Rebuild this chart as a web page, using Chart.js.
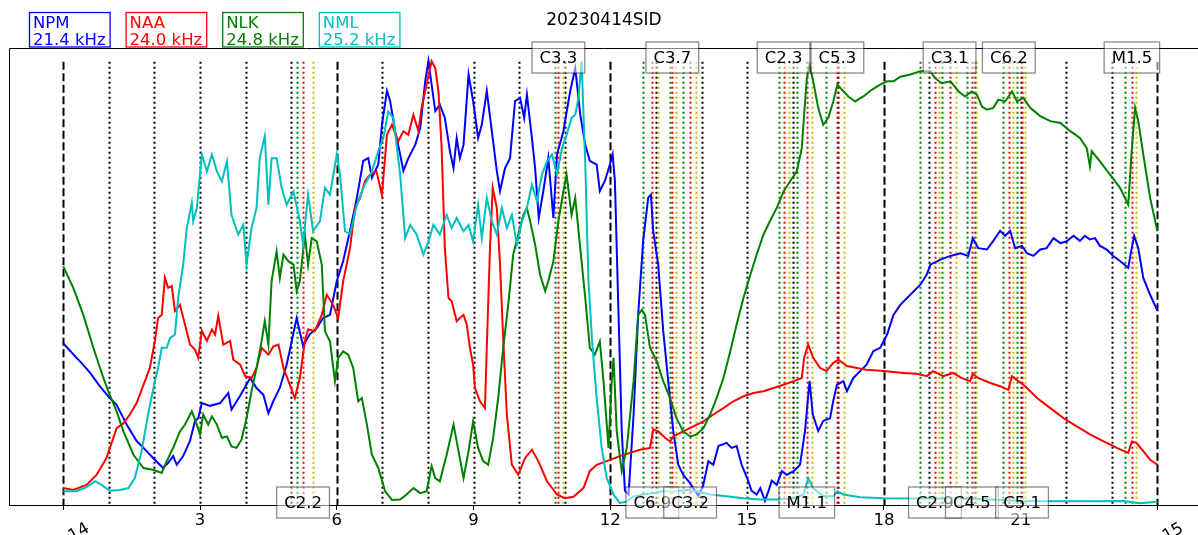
<!DOCTYPE html>
<html>
<head>
<meta charset="utf-8">
<title>20230414SID</title>
<script src="https://cdn.jsdelivr.net/npm/chart.js@4.4.0/dist/chart.umd.min.js"></script>
<style>
  html, body { margin: 0; padding: 0; background: #fff; overflow: hidden; }
  canvas { display: block; }
</style>
</head>
<body>
<canvas id="sid" width="1198" height="535"></canvas>
<script>
// ---- VLF receiver signals, 2023-04-14 (UT hours, normalised 0-100) ----
const npmHours = [0,0.29,0.40,0.59,0.80,1.02,1.17,1.39,1.61,1.76,
  1.97,2.19,2.30,2.41,2.49,2.63,2.78,2.89,2.96,3.04,
  3.22,3.44,3.62,3.69,3.88,4.10,4.24,4.39,4.50,4.61,
  4.75,4.90,5.12,5.26,5.41,5.56,5.70,5.85,6.00,6.14,
  6.29,6.44,6.58,6.69,6.77,6.91,6.99,7.10,7.17,7.28,
  7.39,7.46,7.57,7.72,7.83,7.94,8.01,8.08,8.16,8.26,
  8.37,8.48,8.56,8.63,8.70,8.78,8.89,8.99,9.10,9.18,
  9.29,9.40,9.51,9.58,9.69,9.80,9.91,10.02,10.11,10.17,
  10.28,10.35,10.43,10.53,10.64,10.75,10.83,10.97,11.12,11.23,
  11.34,11.45,11.55,11.70,11.77,11.88,11.99,12.05,12.10,12.18,
  12.25,12.32,12.40,12.51,12.61,12.72,12.83,12.89,12.94,13.05,
  13.16,13.27,13.38,13.49,13.60,13.71,13.82,13.93,14.04,14.15,
  14.26,14.37,14.55,14.66,14.77,14.88,15.00,15.10,15.21,15.29,
  15.39,15.47,15.54,15.65,15.76,15.87,16.02,16.16,16.27,16.37,
  16.44,16.56,16.67,16.82,16.89,16.97,17.11,17.19,17.33,17.48,
  17.62,17.77,17.92,18.07,18.21,18.36,18.58,18.80,18.94,19.02,
  19.24,19.46,19.68,19.85,19.95,20.07,20.26,20.40,20.55,20.66,
  20.77,20.88,21.03,21.14,21.28,21.43,21.57,21.72,21.87,22.01,
  22.16,22.30,22.41,22.52,22.63,22.74,22.89,23.03,23.18,23.36,
  23.41,23.49,23.58,23.69,23.84,24.0];
const npmValues = [35.4,32.2,31.1,28.9,26.0,23.4,21.9,17.6,14.0,12.5,
  10.3,8.1,9.2,10.7,8.8,10.7,14.0,18.4,19.0,22.3,
  21.7,22.3,24.5,20.9,23.9,27.8,25.6,24.1,20.1,22.8,
  25.6,30.7,40.9,34.8,37.4,38.7,40.9,41.6,49.0,53.4,
  60.0,67.2,75.3,75.9,71.6,74.5,83.2,90.6,88.4,81.8,
  76.7,73.1,75.9,78.8,82.5,92.8,97.2,92.0,86.2,87.6,
  84.7,77.5,73.7,80.3,75.9,78.8,94.2,88.4,80.3,83.2,
  90.6,81.8,73.1,68.7,73.7,75.9,88.4,89.1,84.7,89.8,
  80.3,73.7,62.8,68.7,75.9,62.8,76.7,81.8,90.6,95.6,
  85.4,78.8,75.3,74.5,68.7,70.9,74.5,76.7,70.9,41.6,
  16.2,3.1,2.3,19.8,41.6,57.8,67.2,67.9,60.0,52.6,
  38.1,27.1,16.2,8.8,6.6,5.3,3.7,2.0,4.4,9.6,
  8.8,12.9,13.6,12.5,12.9,8.8,5.9,3.1,2.3,3.7,
  0.9,3.1,5.3,4.4,7.4,6.6,7.4,8.8,16.2,27.1,
  19.8,16.2,18.4,19.0,22.8,26.3,27.1,24.9,27.8,29.3,
  30.7,33.7,34.4,37.3,41.6,43.8,46.0,48.2,50.4,52.6,
  53.7,54.5,55.1,54.5,58.4,56.2,55.9,57.8,60.0,58.9,
  60.0,56.2,56.7,55.1,54.5,55.9,56.2,58.4,57.3,57.7,
  58.9,57.8,58.9,58.1,58.4,56.7,55.9,54.5,53.4,51.9,
  54.8,58.9,56.2,49.7,46.0,42.5];

const naaHours = [0,0.22,0.51,0.73,0.95,1.17,1.32,1.46,1.61,1.76,
  1.90,2.01,2.08,2.16,2.23,2.30,2.38,2.45,2.56,2.67,
  2.78,2.89,2.96,3.04,3.15,3.26,3.33,3.40,3.51,3.66,
  3.73,3.88,3.99,4.13,4.24,4.35,4.50,4.61,4.72,4.83,
  4.97,5.08,5.19,5.30,5.37,5.52,5.67,5.78,5.92,6.03,
  6.14,6.29,6.40,6.51,6.62,6.73,6.87,6.99,7.10,7.21,
  7.35,7.46,7.57,7.68,7.79,7.86,7.97,8.08,8.16,8.23,
  8.30,8.37,8.45,8.52,8.63,8.70,8.78,8.85,8.92,8.99,
  9.03,9.14,9.25,9.29,9.36,9.42,9.51,9.58,9.65,9.73,
  9.84,9.98,10.13,10.28,10.42,10.61,10.83,11.00,11.19,11.41,
  11.55,11.70,11.92,12.21,12.43,12.65,12.87,12.94,13.05,13.20,
  13.31,13.38,13.60,13.82,14.04,14.26,14.48,14.70,14.92,15.14,
  15.36,15.58,15.80,16.02,16.20,16.25,16.34,16.45,16.60,16.74,
  16.89,17.00,17.19,17.41,17.62,17.99,18.43,18.72,18.94,19.08,
  19.30,19.52,19.70,19.89,19.95,20.07,20.33,20.55,20.73,20.81,
  20.95,21.10,21.36,21.65,21.94,22.23,22.53,22.82,23.11,23.36,
  23.44,23.54,23.69,23.84,24.0];
const naaValues = [3.7,3.3,4.4,6.6,10.3,16.8,17.9,19.8,22.3,26.3,
  30.0,35.9,40.9,41.6,49.7,47.5,47.9,42.5,43.8,39.5,
  35.1,34.0,32.2,38.1,35.9,38.4,37.3,41.4,35.1,35.9,
  31.8,30.7,28.2,27.8,30.0,34.4,32.9,34.7,35.1,30.0,
  26.3,23.4,27.8,35.9,38.4,38.1,41.6,46.0,43.8,40.9,
  49.0,56.2,65.0,67.2,70.9,72.3,73.0,67.9,81.0,83.2,
  79.6,81.8,81.0,85.4,81.8,86.9,92.0,97.1,95.6,90.5,
  78.1,56.2,45.3,44.6,40.2,40.9,41.6,39.5,34.4,30.7,
  25.6,22.7,21.2,34.4,56.2,69.4,65.0,52.6,36.5,19.8,
  8.8,6.6,10.3,12.1,9.6,5.2,2.3,1.5,1.8,3.7,
  7.4,8.8,9.6,10.7,11.4,12.1,12.5,16.5,16.1,14.7,
  13.9,15.0,16.1,17.2,18.3,19.8,21.2,22.7,23.8,24.5,
  24.9,25.6,26.3,27.1,27.8,32.2,35.1,32.2,30.0,29.3,
  31.1,31.8,30.4,30.0,29.6,29.3,28.9,28.7,28.2,29.3,
  28.2,28.9,27.8,27.1,28.7,27.8,26.7,26.0,25.2,28.2,
  27.1,26.0,23.4,21.2,19.0,17.2,15.4,13.9,12.5,11.4,
  13.9,13.6,11.8,9.9,8.8];

const nlkHours = [0,0.22,0.44,0.66,0.88,1.02,1.17,1.32,1.54,1.76,
  1.97,2.16,2.27,2.41,2.56,2.67,2.82,2.93,3.00,3.07,
  3.18,3.26,3.37,3.48,3.59,3.69,3.80,3.91,4.02,4.13,
  4.24,4.35,4.42,4.50,4.57,4.68,4.75,4.83,4.94,5.05,
  5.12,5.19,5.30,5.37,5.45,5.56,5.67,5.74,5.85,5.96,
  6.03,6.14,6.25,6.36,6.47,6.55,6.66,6.77,6.91,7.06,
  7.21,7.39,7.53,7.68,7.83,7.97,8.08,8.16,8.26,8.41,
  8.56,8.67,8.78,8.89,8.99,9.10,9.21,9.32,9.43,9.54,
  9.65,9.76,9.87,9.98,10.09,10.17,10.24,10.35,10.46,10.57,
  10.64,10.75,10.86,10.97,11.04,11.15,11.23,11.34,11.45,11.55,
  11.66,11.77,11.85,11.96,12.03,12.07,12.14,12.25,12.36,12.51,
  12.61,12.69,12.76,12.87,13.02,13.16,13.31,13.45,13.60,13.75,
  13.89,14.04,14.19,14.33,14.48,14.63,14.77,14.92,15.07,15.21,
  15.36,15.50,15.65,15.80,15.94,16.09,16.20,16.25,16.31,16.37,
  16.45,16.56,16.67,16.78,16.89,16.98,17.08,17.22,17.37,17.55,
  17.74,17.92,18.07,18.21,18.36,18.58,18.80,19.02,19.12,19.27,
  19.46,19.64,19.78,19.93,20.04,20.15,20.26,20.40,20.51,20.66,
  20.81,20.92,21.06,21.21,21.43,21.65,21.87,22.09,22.30,22.45,
  22.52,22.56,22.74,22.96,23.18,23.36,23.44,23.51,23.58,23.69,
  23.84,24.0];
const nlkValues = [52.2,47.5,41.6,34.4,27.8,24.1,20.5,16.1,11.0,8.1,
  7.7,7.0,9.6,12.5,16.1,17.6,20.5,17.6,15.4,19.8,
  17.6,19.4,17.6,14.7,15.0,12.8,12.5,14.3,19.0,24.9,
  30.0,35.8,40.2,35.1,49.0,55.5,49.7,54.8,53.3,52.6,
  46.8,49.0,59.2,52.6,58.4,57.7,52.6,38.0,35.8,27.1,
  32.2,33.6,32.9,30.0,22.7,23.4,17.6,11.0,8.1,3.0,
  1.1,1.2,2.3,3.7,2.6,3.0,8.5,5.9,5.2,11.0,
  17.6,11.8,5.9,11.8,18.3,12.5,9.6,8.8,14.7,23.4,
  34.4,43.8,54.8,59.2,63.5,65.0,62.1,57.0,50.4,46.8,
  49.0,53.3,62.1,68.6,72.3,63.5,67.2,56.2,45.3,34.4,
  32.9,35.8,27.1,12.5,27.1,32.2,16.1,7.4,12.5,27.1,
  41.6,42.7,41.6,34.4,31.4,27.1,23.4,19.0,16.1,15.0,
  15.4,16.8,19.8,23.4,27.8,33.6,39.5,45.3,50.4,54.8,
  59.2,62.1,65.0,68.6,70.8,73.0,78.1,85.4,93.4,96.3,
  92.7,86.9,83.2,84.7,88.3,92.0,90.9,89.4,88.3,89.4,
  90.9,92.0,92.7,92.7,93.7,94.2,94.9,94.9,93.4,92.3,
  92.7,90.5,89.4,90.5,89.8,87.2,86.5,86.9,88.7,88.3,
  90.5,88.3,89.1,86.9,85.1,84.0,83.6,81.8,80.3,78.1,
  74.1,77.4,75.2,72.3,69.4,65.7,78.1,86.9,84.0,76.7,
  67.2,59.9];

const nmlHours = [0,0.29,0.51,0.70,0.84,1.02,1.24,1.43,1.57,1.72,
  1.86,2.01,2.08,2.16,2.27,2.34,2.45,2.52,2.63,2.71,
  2.82,2.85,2.93,3.04,3.15,3.26,3.37,3.48,3.59,3.69,
  3.84,3.95,4.02,4.13,4.24,4.31,4.42,4.50,4.57,4.68,
  4.79,4.90,5.05,5.19,5.26,5.37,5.48,5.63,5.74,5.85,
  6.00,6.07,6.18,6.29,6.44,6.58,6.77,6.91,7.02,7.13,
  7.24,7.39,7.50,7.61,7.75,7.90,8.01,8.12,8.26,8.41,
  8.52,8.63,8.78,8.89,8.99,9.10,9.18,9.29,9.40,9.51,
  9.62,9.73,9.84,9.95,10.06,10.17,10.28,10.39,10.50,10.61,
  10.72,10.83,10.94,11.04,11.15,11.23,11.30,11.37,11.45,11.52,
  11.60,11.70,11.81,11.92,12.07,12.21,12.36,12.51,12.72,12.94,
  13.16,13.45,13.68,13.89,14.19,14.55,14.92,15.29,15.65,16.02,
  16.24,16.34,16.45,16.67,16.89,16.98,17.11,17.48,17.99,18.87,
  19.60,20.33,21.06,21.79,22.52,23.25,23.62,24.0];
const nmlValues = [3.0,3.0,3.9,5.2,4.4,3.1,3.3,3.7,5.9,11.8,
  19.8,27.1,30.0,34.4,34.4,36.5,37.3,45.3,52.6,60.6,
  66.1,62.1,65.0,76.7,73.0,76.7,73.0,70.8,75.2,63.5,
  59.2,61.3,52.6,60.6,65.0,75.9,80.7,65.7,75.9,75.9,
  69.4,65.7,68.6,62.1,57.0,67.9,59.9,62.1,69.4,67.9,
  76.7,72.3,59.9,59.2,65.7,69.4,73.0,77.4,80.3,86.1,
  84.7,72.3,58.4,61.3,59.2,54.8,57.7,61.3,59.2,63.5,
  60.6,62.8,59.9,61.3,57.7,65.7,58.4,67.2,62.1,59.2,
  65.0,60.6,63.5,57.0,62.1,65.0,70.1,66.5,72.3,75.2,
  76.7,72.3,78.1,81.0,84.7,85.4,89.1,97.1,74.5,49.0,
  35.8,23.4,12.5,5.9,2.3,0.4,0.8,1.9,2.3,2.6,
  3.0,3.0,3.3,3.0,2.3,1.9,1.5,1.2,1.2,1.5,
  2.3,5.9,3.7,1.9,1.9,3.0,2.3,1.7,1.5,1.4,
  1.4,1.2,0.9,0.8,0.8,0.9,0.4,0.7];

// ---- GOES X-ray events (class, start / peak / end in UT hours) ----
const flareClass = ['C2.2','C3.3','C6.9','C3.7','C3.2','C2.3','M1.1','C5.3','C2.9','C3.1','C4.5','C6.2','C5.1','M1.5'];
const flareStart = [5.12,10.79,12.72,13.31,13.60,15.70,16.09,16.72,18.80,19.28,19.82,20.62,20.92,23.29];
const flarePeak  = [5.26,10.86,12.92,13.36,13.75,15.80,16.31,16.98,19.12,19.44,19.93,20.74,21.03,23.44];
const flareEnd   = [5.48,10.96,13.04,13.43,13.87,15.92,16.42,17.13,19.21,19.58,20.03,20.84,21.10,23.52];

// ---- axis ticks / labels ----
const tickHours = [0,3,6,9,12,15,18,21,24];
const dateLabels = ['2023-04-14', '2023-04-15'];
const stations = ['NPM','NAA','NLK','NML'];
const frequencies = ['21.4 kHz','24.0 kHz','24.8 kHz','25.2 kHz'];
const chartTitle = '20230414SID';

const COLORS = ['#0000ff', '#ff0000', '#008000', '#00bfbf'];
const FONT = "16.5px 'DejaVu Sans'";

const pairs = (hs, vs) => hs.map((h, i) => ({ x: h, y: vs[i] }));
const seriesData = [
  pairs(npmHours, npmValues),
  pairs(naaHours, naaValues),
  pairs(nlkHours, nlkValues),
  pairs(nmlHours, nmlValues)
];

function vline(ctx, x, top, bottom, color, dash, width) {
  ctx.save();
  ctx.strokeStyle = color;
  ctx.lineWidth = width;
  ctx.setLineDash(dash);
  ctx.beginPath();
  ctx.moveTo(Math.round(x) + 0.5, top);
  ctx.lineTo(Math.round(x) + 0.5, bottom);
  ctx.stroke();
  ctx.restore();
}

const decorations = {
  id: 'sidDecorations',
  beforeDatasetsDraw(chart) {
    const { ctx, chartArea: a, scales: { x, y } } = chart;
    const top = y.getPixelForValue(97);
    ctx.save();
    ctx.beginPath();
    ctx.rect(a.left, a.top, a.right - a.left, a.bottom - a.top);
    ctx.clip();
    // hourly guides: dashed every 6 h, dotted otherwise
    for (let h = 0; h <= 24; h++) {
      const px = x.getPixelForValue(h);
      if (h % 6 === 0) vline(ctx, px, top, a.bottom, '#000', [8, 3.5], 2);
      else vline(ctx, px, top, a.bottom, '#000', [2, 3], 2);
    }
    // flare start / peak / end markers
    flareClass.forEach((c, i) => {
      vline(ctx, x.getPixelForValue(flareStart[i]), top, a.bottom, '#008000', [2, 3], 2);
      vline(ctx, x.getPixelForValue(flarePeak[i]), top, a.bottom, '#ff0000', [2, 3], 2);
      vline(ctx, x.getPixelForValue(flareEnd[i]), top, a.bottom, '#bfbf00', [2, 3], 2);
    });
    ctx.restore();
  },
  afterDraw(chart) {
    const { ctx, chartArea: a, scales: { x } } = chart;
    ctx.save();
    // frame: top and left spines
    ctx.strokeStyle = '#000';
    ctx.lineWidth = 1;
    ctx.beginPath();
    ctx.moveTo(a.left + 0.5, a.bottom);
    ctx.lineTo(a.left + 0.5, a.top + 0.5);
    ctx.lineTo(a.right, a.top + 0.5);
    ctx.stroke();

    // flare class labels, alternating bottom / top
    ctx.font = FONT;
    ctx.textAlign = 'center';
    ctx.textBaseline = 'middle';
    flareClass.forEach((c, i) => {
      const cx = x.getPixelForValue(flarePeak[i]);
      const w = ctx.measureText(c).width + 15;
      const h = 31;
      const cy = i % 2 === 0 ? 502.5 : 57.5;
      ctx.fillStyle = 'rgba(255,255,255,0.5)';
      ctx.fillRect(cx - w / 2, cy - h / 2, w, h);
      ctx.strokeStyle = 'rgba(0,0,0,0.45)';
      ctx.lineWidth = 1.3;
      ctx.strokeRect(cx - w / 2, cy - h / 2, w, h);
      ctx.fillStyle = '#000';
      ctx.fillText(c, cx, cy + 1);
    });

    // station legend boxes above the frame
    ctx.textAlign = 'left';
    ctx.textBaseline = 'alphabetic';
    let bx = 29;
    stations.forEach((s, i) => {
      const w = Math.max(ctx.measureText(s).width, ctx.measureText(frequencies[i]).width) + 8;
      ctx.fillStyle = '#fff';
      ctx.fillRect(bx, 12, w, 35);
      ctx.strokeStyle = COLORS[i];
      ctx.lineWidth = 1.3;
      ctx.strokeRect(bx + 0.5, 12.5, w, 34.5);
      ctx.fillStyle = COLORS[i];
      ctx.fillText(s, bx + 4, 28);
      ctx.fillText(frequencies[i], bx + 4, 45);
      bx += w + 16;
    });

    // title
    ctx.fillStyle = '#000';
    ctx.font = "17px 'DejaVu Sans'";
    ctx.textAlign = 'center';
    ctx.fillText(chartTitle, 604, 25);

    // rotated date labels under the day boundaries
    ctx.font = FONT;
    [0, 24].forEach((h, i) => {
      ctx.save();
      ctx.translate(x.getPixelForValue(h) + 27, 531);
      ctx.rotate(-30 * Math.PI / 180);
      ctx.textAlign = 'right';
      ctx.fillText(dateLabels[i], 0, 0);
      ctx.restore();
    });
    ctx.restore();
  }
};

new Chart(document.getElementById('sid'), {
  type: 'line',
  data: {
    datasets: stations.map((s, i) => ({
      label: s,
      data: seriesData[i],
      borderColor: COLORS[i],
      backgroundColor: COLORS[i],
      borderWidth: 2,
      pointRadius: 0,
      tension: 0,
      fill: false,
      order: 3 - i
    }))
  },
  options: {
    responsive: false,
    animation: false,
    devicePixelRatio: 1,
    layout: { padding: { left: 9, right: 0, top: 48, bottom: 0 } },
    plugins: { legend: { display: false }, tooltip: { enabled: false }, title: { display: false } },
    scales: {
      x: {
        type: 'linear',
        min: -1.19,
        max: 24.89,
        afterBuildTicks: s => { s.ticks = tickHours.map(v => ({ value: v })); },
        afterFit: s => { s.height = 30; },
        grid: { display: true, drawOnChartArea: false, drawTicks: true, tickLength: 5, color: '#000', lineWidth: 1 },
        border: { display: true, color: '#000', width: 1 },
        ticks: {
          autoSkip: false,
          maxRotation: 0,
          padding: 1,
          color: '#000',
          font: { family: 'DejaVu Sans', size: 16.5 },
          callback: v => (v === 0 || v === 24) ? '' : String(v)
        }
      },
      y: { display: false, min: 0, max: 100 }
    }
  },
  plugins: [decorations]
});
</script>
</body>
</html>
